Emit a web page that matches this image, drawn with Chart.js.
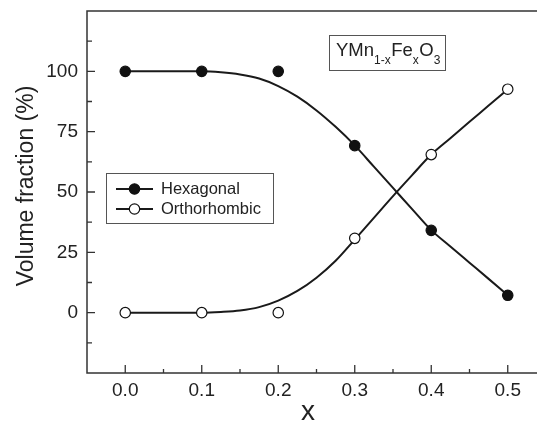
<!DOCTYPE html>
<html>
<head>
<meta charset="utf-8">
<script src="https://cdn.jsdelivr.net/npm/chart.js@4/dist/chart.umd.min.js"></script>
<style>
  html, body { margin: 0; padding: 0; background: #fff; overflow: hidden; }
  #wrap { width: 537px; height: 422px; overflow: hidden; }
</style>
</head>
<body>
<div id="wrap"><canvas id="c" width="560" height="422" style="width:560px;height:422px"></canvas></div>
<script>
// ---- data ----
const xValues = [0.0, 0.1, 0.2, 0.3, 0.4, 0.5];
const hexagonal = [100, 100, 100, 69.2, 34.1, 7.2];
const orthorhombic = [0, 0, 0, 30.8, 65.5, 92.6];

// smooth fitted curves at x steps of 0.025
const fitX = [0, 0.025, 0.05, 0.075, 0.1, 0.125, 0.15, 0.175, 0.2, 0.225, 0.25,
              0.275, 0.3, 0.325, 0.35, 0.375, 0.4, 0.425, 0.45, 0.475, 0.5];
const hexagonalFit = [100, 100, 100, 100, 100, 99.6, 98.7, 97.0, 93.9, 89.5, 83.8,
                      77.0, 69.3, 60.5, 51.7, 42.9, 34.2, 27.4, 20.7, 14.0, 7.2];
const orthorhombicFit = [0, 0, 0, 0, 0, 0.3, 0.9, 2.3, 5.0, 9.0, 14.5,
                         21.5, 30.3, 39.3, 48.3, 57.0, 65.5, 72.3, 79.1, 85.8, 92.6];

const xTicks = [0.0, 0.1, 0.2, 0.3, 0.4, 0.5];
const yTicks = [0, 25, 50, 75, 100];
const seriesNames = ['Hexagonal', 'Orthorhombic'];
const xTitle = 'x';
const yTitle = 'Volume fraction (%)';

const FONT = '"Liberation Sans", Arial, Helvetica, sans-serif';
const INK = '#1a1a1a';
const TXT = '#222';

const toXY = (xs, ys) => xs.map((v, i) => ({ x: v, y: ys[i] }));

const decor = {
  id: 'decor',
  afterDraw(chart) {
    const { ctx, chartArea: a, scales: { x, y } } = chart;
    ctx.save();
    // frame
    ctx.strokeStyle = '#333';
    ctx.lineWidth = 1.5;
    ctx.strokeRect(a.left, a.top, a.right - a.left, a.bottom - a.top);
    // inward ticks
    ctx.lineWidth = 1.3;
    ctx.beginPath();
    const yMaj = [-25].concat(yTicks, [125]);
    yTicks.forEach(v => { const p = y.getPixelForValue(v); ctx.moveTo(a.left, p); ctx.lineTo(a.left + 8, p); });
    for (let i = 0; i < yMaj.length - 1; i++) {
      const p = y.getPixelForValue((yMaj[i] + yMaj[i + 1]) / 2);
      ctx.moveTo(a.left, p); ctx.lineTo(a.left + 5, p);
    }
    xTicks.forEach(v => { const p = x.getPixelForValue(v); ctx.moveTo(p, a.bottom); ctx.lineTo(p, a.bottom - 8); });
    for (let i = 0; i < xTicks.length - 1; i++) {
      const p = x.getPixelForValue((xTicks[i] + xTicks[i + 1]) / 2);
      ctx.moveTo(p, a.bottom); ctx.lineTo(p, a.bottom - 4);
    }
    ctx.stroke();

    // legend box
    ctx.strokeStyle = '#555';
    ctx.lineWidth = 1;
    ctx.strokeRect(106.5, 173.5, 167, 50);
    const rows = [{ y: 189, fill: '#111' }, { y: 209, fill: '#fff' }];
    rows.forEach((r, i) => {
      ctx.strokeStyle = INK; ctx.lineWidth = 2;
      ctx.beginPath(); ctx.moveTo(116, r.y); ctx.lineTo(153, r.y); ctx.stroke();
      ctx.beginPath(); ctx.arc(134.5, r.y, 5.2, 0, Math.PI * 2);
      ctx.fillStyle = r.fill; ctx.fill();
      ctx.lineWidth = 1.2; ctx.strokeStyle = '#111'; ctx.stroke();
      ctx.fillStyle = TXT; ctx.font = '16.5px ' + FONT;
      ctx.textAlign = 'left'; ctx.textBaseline = 'middle';
      ctx.fillText(seriesNames[i], 161, r.y + 0.5);
    });

    // formula box
    ctx.strokeStyle = '#555'; ctx.lineWidth = 1;
    ctx.strokeRect(329.5, 35.5, 116, 35);
    ctx.fillStyle = TXT; ctx.textBaseline = 'alphabetic'; ctx.textAlign = 'left';
    const parts = [['YMn', 0], ['1-x', 1], ['Fe', 0], ['x', 1], ['O', 0], ['3', 1]];
    let cx = 336;
    parts.forEach(([t, sub]) => {
      ctx.font = (sub ? '12px ' : '18.5px ') + FONT;
      ctx.fillText(t, cx, sub ? 63.5 : 55.5);
      cx += ctx.measureText(t).width + (sub ? 0.5 : 0);
    });

    // axis titles
    ctx.fillStyle = TXT;
    ctx.font = '28px ' + FONT;
    ctx.textAlign = 'center'; ctx.textBaseline = 'alphabetic';
    ctx.fillText(xTitle, 308, 420);
    ctx.save();
    ctx.translate(33, 186);
    ctx.rotate(-Math.PI / 2);
    ctx.font = '23px ' + FONT;
    ctx.textBaseline = 'alphabetic';
    ctx.fillText(yTitle, 0, 0);
    ctx.restore();
    ctx.restore();
  }
};

const zeroPad = s => { s.paddingTop = 0; s.paddingBottom = 0; s.paddingLeft = 0; s.paddingRight = 0; };

new Chart(document.getElementById('c'), {
  type: 'scatter',
  data: {
    datasets: [
      { label: seriesNames[0], data: toXY(xValues, hexagonal), showLine: false,
        pointRadius: 5.2, pointBackgroundColor: '#111', pointBorderColor: '#111', pointBorderWidth: 1.2, order: 0 },
      { label: seriesNames[1], data: toXY(xValues, orthorhombic), showLine: false,
        pointRadius: 5.2, pointBackgroundColor: '#fff', pointBorderColor: '#111', pointBorderWidth: 1.2, order: 0 },
      { label: seriesNames[0] + ' fit', data: toXY(fitX, hexagonalFit), showLine: true,
        borderColor: INK, borderWidth: 2, pointRadius: 0, cubicInterpolationMode: 'monotone', order: 1 },
      { label: seriesNames[1] + ' fit', data: toXY(fitX, orthorhombicFit), showLine: true,
        borderColor: INK, borderWidth: 2, pointRadius: 0, cubicInterpolationMode: 'monotone', order: 1 }
    ]
  },
  options: {
    responsive: false,
    animation: false,
    devicePixelRatio: 1,
    layout: { padding: { top: 11, right: 14, left: 0, bottom: 0 } },
    plugins: { legend: { display: false }, tooltip: { enabled: false } },
    scales: {
      x: {
        type: 'linear', min: -0.05, max: 0.55,
        afterBuildTicks: s => { s.ticks = xTicks.map(v => ({ value: v })); },
        afterFit: s => { s.height = 49; zeroPad(s); },
        grid: { display: true, drawOnChartArea: false, drawTicks: false },
        border: { display: false },
        ticks: { callback: v => Number(v).toFixed(1), color: TXT, padding: 6,
                 font: { family: FONT, size: 19 }, maxRotation: 0, autoSkip: false }
      },
      y: {
        type: 'linear', min: -25, max: 125,
        afterBuildTicks: s => { s.ticks = yTicks.map(v => ({ value: v })); },
        afterFit: s => { s.width = 87; zeroPad(s); },
        grid: { display: true, drawOnChartArea: false, drawTicks: false },
        border: { display: false },
        ticks: { callback: v => String(v), color: TXT, padding: 9,
                 font: { family: FONT, size: 19 } }
      }
    }
  },
  plugins: [decor]
});
</script>
</body>
</html>
